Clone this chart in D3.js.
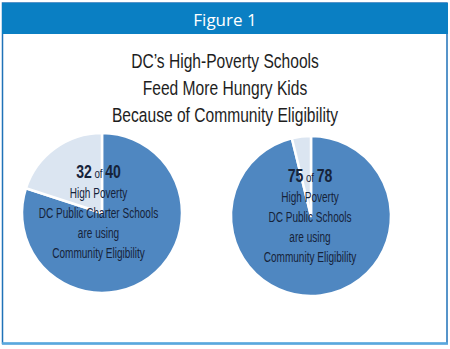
<!DOCTYPE html>
<html><head><meta charset="utf-8">
<script src="https://cdn.jsdelivr.net/npm/d3@7"></script>
<style>body{margin:0;background:#fff}svg{display:block}</style>
</head><body>
<script>
const figureTitle = "Figure 1";
const titleLines = ["DC\u2019s High-Poverty Schools", "Feed More Hungry Kids", "Because of Community Eligibility"];
const pieNames = ["Charter", "Public"];
const usingCE = [32, 75];
const totalSchools = [40, 78];
const pieTextLines = [
  ["High Poverty", "DC Public Charter Schools", "are using", "Community Eligibility"],
  ["High Poverty", "DC Public Schools", "are using", "Community Eligibility"]
];

const W = 450, H = 349;
const svg = d3.select("body").append("svg").attr("width", W).attr("height", H);

// frame
svg.append("rect").attr("x", 2.5).attr("y", 3).attr("width", 444.5).attr("height", 340.5)
  .attr("fill", "#fff").attr("stroke", "#1f72b8").attr("stroke-width", 1.5);
svg.append("line").attr("x1", 2).attr("x2", 448).attr("y1", 343.5).attr("y2", 343.5)
  .attr("stroke", "#58a8de").attr("stroke-width", 2.5);
svg.append("rect").attr("x", 2).attr("y", 3).attr("width", 446).attr("height", 31).attr("fill", "#0a7fc3");
svg.append("text").attr("x", 225).attr("y", 25.5).attr("text-anchor", "middle")
  .attr("font-family", "Open Sans, sans-serif").attr("font-size", 17).attr("fill", "#fff")
  .text(figureTitle);

const font = "'Liberation Sans', Arial, sans-serif";
// horizontally condensed text, anchored at (x, y)
function condensed(parent, x, y, sx) {
  return parent.append("text").attr("transform", `translate(${x},${y}) scale(${sx},1)`)
    .attr("text-anchor", "middle").attr("font-family", font);
}

titleLines.forEach((line, i) => {
  condensed(svg, 225, 68 + i * 27, 0.8).attr("font-size", 19.5).attr("fill", "#1e1e1e").text(line);
});

const centers = [[102, 213], [311, 216]];
const textY = [178, 182];
const textX = [98.5, 310];
const R = 80;
const pie = d3.pie().sort(null).value(d => d);
const arc = d3.arc().innerRadius(0).outerRadius(R);
const color = d3.scaleOrdinal().domain([0, 1]).range(["#4f87c1", "#dbe5f1"]);

pieNames.forEach((name, k) => {
  const g = svg.append("g").attr("transform", `translate(${centers[k][0]},${centers[k][1]})`);
  const vals = [usingCE[k], totalSchools[k] - usingCE[k]];
  g.selectAll("path").data(pie(vals)).join("path")
    .attr("d", arc).attr("fill", (d, i) => color(i))
    .attr("stroke", "#fff").attr("stroke-width", 2.5).attr("stroke-linejoin", "round");
  const t = condensed(svg, textX[k], textY[k], 0.78).attr("fill", "#16233a");
  t.append("tspan").attr("font-size", 18).attr("font-weight", "bold").text(usingCE[k]);
  t.append("tspan").attr("font-size", 12.5).text(" of ");
  t.append("tspan").attr("font-size", 18).attr("font-weight", "bold").text(totalSchools[k]);
  pieTextLines[k].forEach((line, i) => {
    condensed(svg, textX[k], textY[k] + 20 + i * 20, 0.67).attr("font-size", 15)
      .attr("fill", "#16233a").text(line);
  });
});
</script>
</body></html>
